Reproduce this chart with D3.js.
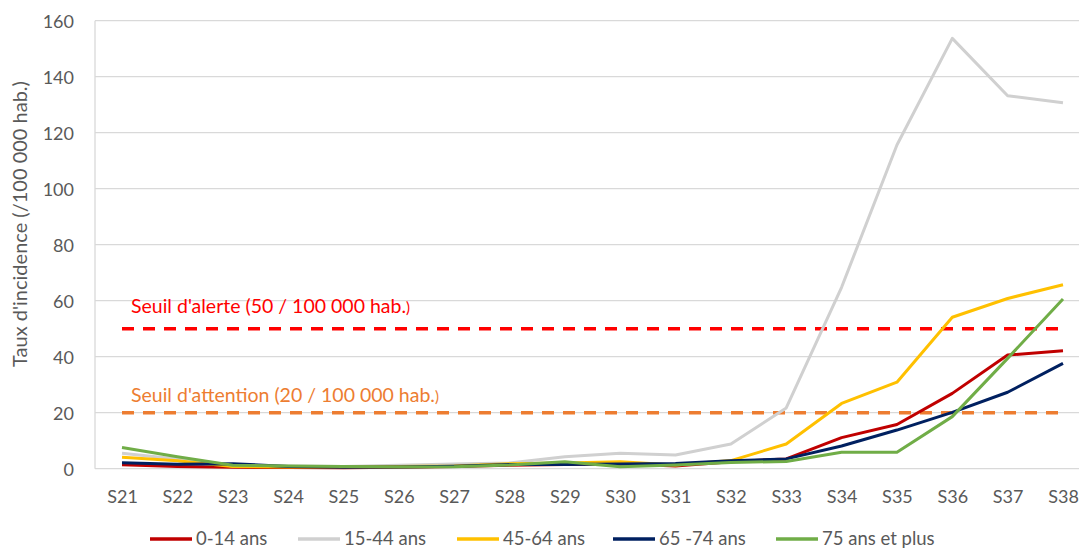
<!DOCTYPE html>
<html><head><meta charset="utf-8">
<script src="https://cdn.jsdelivr.net/npm/d3@7"></script>
<style>body{margin:0;background:#fff}svg{display:block;font-family:Lato,"Open Sans",sans-serif}</style>
</head><body><svg id="c" width="1079" height="550"></svg>
<script>
const categories = ["S21","S22","S23","S24","S25","S26","S27","S28","S29","S30","S31","S32","S33","S34","S35","S36","S37","S38"];
const yTicks = [0,20,40,60,80,100,120,140,160];
const seriesNames = ["0-14 ans","15-44 ans","45-64 ans","65 -74 ans","75 ans et plus"];
const seriesColors = ["#C00000","#D0D0D0","#FFC000","#002060","#70AD47"];
const s0_14 = [1.4,0.8,0.5,0.4,0.3,0.5,0.8,1.2,1.5,1.8,1.0,2.5,3.5,11.1,15.8,26.9,40.6,42.1];
const s15_44 = [5.5,3.5,1.0,1.0,0.8,1.2,1.7,2.0,4.3,5.5,4.9,8.8,21.7,64.8,115.6,153.7,133.2,130.7];
const s45_64 = [4.1,2.8,0.8,0.6,0.6,0.8,1.0,1.8,2.0,2.5,1.3,2.9,8.8,23.3,30.9,54.1,60.8,65.7];
const s65_74 = [2.1,1.6,1.8,0.8,0.5,0.6,0.9,1.5,1.5,1.7,1.9,2.8,3.5,8.1,13.8,20.1,27.3,37.6];
const s75 = [7.6,4.3,1.2,1.0,0.8,0.6,0.7,1.3,2.5,0.7,1.3,2.2,2.6,5.9,5.9,18.6,39.4,60.6];
const seriesValues = [s0_14,s15_44,s45_64,s65_74,s75];
const thresholds = [50,20];
const thresholdLabels = ["Seuil d'alerte (50 / 100 000 hab.", "Seuil d'attention (20 / 100 000 hab."];
const thresholdLabelTail = ")";
const thresholdColors = ["#FF0000","#ED7D31"];
const yTitle = "Taux d'incidence (/100 000 hab.)";

const svg = d3.select("#c");
const x = d3.scalePoint().domain(categories).range([122, 1063]);
const step = x.step();
const left = 95, right = 1063 + step/2;
const y = d3.scaleLinear().domain([0,160]).range([468.7, 20.7]);

// gridlines
svg.append("g").selectAll("line").data(yTicks).join("line")
  .attr("x1", left).attr("x2", right).attr("y1", d=>y(d)).attr("y2", d=>y(d))
  .attr("stroke","#D9D9D9").attr("stroke-width",1.3);
svg.append("line").attr("x1",left).attr("x2",left).attr("y1",y(160)).attr("y2",y(0)).attr("stroke","#D9D9D9").attr("stroke-width",1.3);

// y axis labels
const yAxis = d3.axisLeft(y).tickValues(yTicks).tickSize(0).tickPadding(0);
const ga = svg.append("g").attr("transform",`translate(74,0)`).call(yAxis);
ga.select(".domain").remove();
ga.selectAll("text").attr("fill","#595959").attr("font-size",18).attr("font-family","Lato,sans-serif").attr("dy","0.36em");

// x axis labels
const xAxis = d3.axisBottom(x).tickSize(0).tickPadding(0);
const gx = svg.append("g").attr("transform",`translate(0,490)`).call(xAxis);
gx.select(".domain").remove();
gx.selectAll("text").attr("fill","#595959").attr("font-size",18).attr("font-family","Lato,sans-serif").attr("dy","0.71em");

// y title
svg.append("text").attr("transform",`translate(27,224) rotate(-90)`).attr("text-anchor","middle")
  .attr("fill","#595959").attr("font-size",20).text(yTitle);

// thresholds
const labelOffsets = [15.4, 11];
thresholds.forEach((t,i)=>{
  svg.append("line").attr("x1",x(categories[0])).attr("x2",x(categories[categories.length-1]))
    .attr("y1",y(t)).attr("y2",y(t)).attr("stroke",thresholdColors[i]).attr("stroke-width",3.5)
    .attr("stroke-dasharray","12,9");
  const tx = svg.append("text").attr("x",131).attr("y",y(t)-labelOffsets[i]).attr("fill",thresholdColors[i]).attr("font-size",19.5);
  tx.append("tspan").text(thresholdLabels[i]);
  tx.append("tspan").attr("font-size",15).text(thresholdLabelTail);
});

// lines
const line = d3.line().x((d,i)=>x(categories[i])).y(d=>y(d));
seriesValues.forEach((vals,i)=>{
  svg.append("path").datum(vals).attr("d",line).attr("fill","none")
    .attr("stroke",seriesColors[i]).attr("stroke-width",3).attr("stroke-linejoin","round");
});

// legend
const legX = [150,298,457,613,776];
const lg = svg.append("g");
seriesNames.forEach((n,i)=>{
  lg.append("line").attr("x1",legX[i]).attr("x2",legX[i]+42).attr("y1",539).attr("y2",539)
    .attr("stroke",seriesColors[i]).attr("stroke-width",3.5);
  lg.append("text").attr("x",legX[i]+46).attr("y",538).attr("dy","0.36em").attr("fill","#595959")
    .attr("font-size",18.5).text(n);
});
</script></body></html>
